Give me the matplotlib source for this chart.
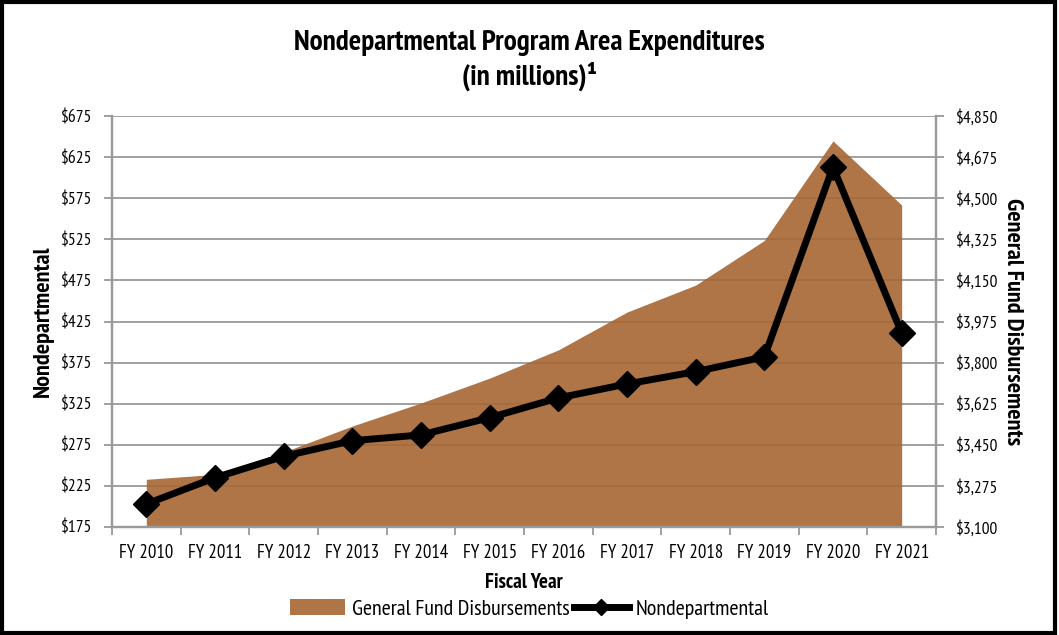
import matplotlib.pyplot as plt
from matplotlib.patches import Rectangle, Patch
from matplotlib.lines import Line2D
from matplotlib.ticker import FuncFormatter
import numpy as np

years = ["FY 2010", "FY 2011", "FY 2012", "FY 2013", "FY 2014", "FY 2015",
         "FY 2016", "FY 2017", "FY 2018", "FY 2019", "FY 2020", "FY 2021"]
nondept = [203, 235, 261, 280, 287, 308, 332, 349, 364, 382, 613, 411]
gf_disb = [3303, 3324, 3419, 3530, 3628, 3734, 3854, 4015, 4130, 4320, 4744, 4471]

left_ticks = [175, 225, 275, 325, 375, 425, 475, 525, 575, 625, 675]
right_ticks = [3100, 3275, 3450, 3625, 3800, 3975, 4150, 4325, 4500, 4675, 4850]

fonts = ['PT Sans Narrow', 'Roboto Condensed', 'Liberation Sans Narrow', 'DejaVu Sans']
plt.rcParams['font.family'] = fonts

fig = plt.figure(figsize=(10.59, 6.35), dpi=100)
ax = fig.add_axes([112/1059, 1-527/635, (936-112)/1059, (527-116)/635])
ax2 = ax.twinx()

x = np.arange(len(years))
area_col = (167/255, 102/255, 51/255)
grid_col = '#999999'

# area on the right axis, drawn below the line axis
ax2.fill_between(x, right_ticks[0], gf_disb, color=area_col, alpha=0.9, lw=0, zorder=2)
ax2.set_ylim(right_ticks[0], right_ticks[-1])
ax2.set_yticks(right_ticks)
ax2.yaxis.set_major_formatter(FuncFormatter(lambda v, p: "${:,.0f}".format(v)))
ax2.grid(axis='y', color=grid_col, lw=1.3)
ax2.set_axisbelow(True)

ax.plot(x, nondept, color='black', lw=5, marker='D', markersize=13, zorder=5)
ax.set_ylim(left_ticks[0], left_ticks[-1])
ax.set_yticks(left_ticks)
ax.yaxis.set_major_formatter(FuncFormatter(lambda v, p: "${:,.0f}".format(v)))
ax.set_xlim(-0.5, len(years) - 0.5)
ax.set_xticks(x)
ax.set_xticklabels(years)
ax.set_xticks(np.arange(len(years) + 1) - 0.5, minor=True)
ax.tick_params(axis='x', which='major', length=0, labelsize=13.5, pad=12)
ax.tick_params(axis='x', which='minor', length=6, color=grid_col, width=1.3)

ax.set_zorder(ax2.get_zorder() + 1)
ax.patch.set_visible(False)

for a in (ax, ax2):
    for s in a.spines.values():
        s.set_color(grid_col)
        s.set_linewidth(1.6)
    a.spines['top'].set_visible(False)
ax.tick_params(axis='y', length=6, color=grid_col, width=1.3, labelsize=12.5, pad=8)
ax2.tick_params(axis='y', length=6, color=grid_col, width=1.3, labelsize=12.5, pad=8)

ax.set_ylabel("Nondepartmental", fontsize=17.5, fontweight='bold', labelpad=5)
ax2.set_ylabel("General Fund Disbursements", fontsize=17.5, fontweight='bold',
               rotation=270, labelpad=18)
ax.set_xlabel("Fiscal Year", fontsize=15, fontweight='bold', labelpad=8)

fig.text(0.5, 1 - 43/635, "Nondepartmental Program Area Expenditures",
         ha='center', va='center', fontsize=21, fontweight='bold')
fig.text(0.5, 1 - 76/635, "(in millions)\u00b9",
         ha='center', va='center', fontsize=21, fontweight='bold')

handles = [Patch(facecolor=area_col, alpha=0.9, edgecolor='none'),
           Line2D([], [], color='black', lw=5, marker='D', markersize=8)]
fig.legend(handles, ["General Fund Disbursements", "Nondepartmental"],
           loc='center', bbox_to_anchor=(0.5, 1 - 609/635), ncol=2,
           frameon=False, fontsize=15.8, handlelength=2.5, handletextpad=0.3,
           columnspacing=0.2)

fig.patches.append(Rectangle((0.002, 0.003), 0.994, 0.994, transform=fig.transFigure,
                             fill=False, edgecolor='black', lw=3))

fig.savefig("out.png", dpi=100)
